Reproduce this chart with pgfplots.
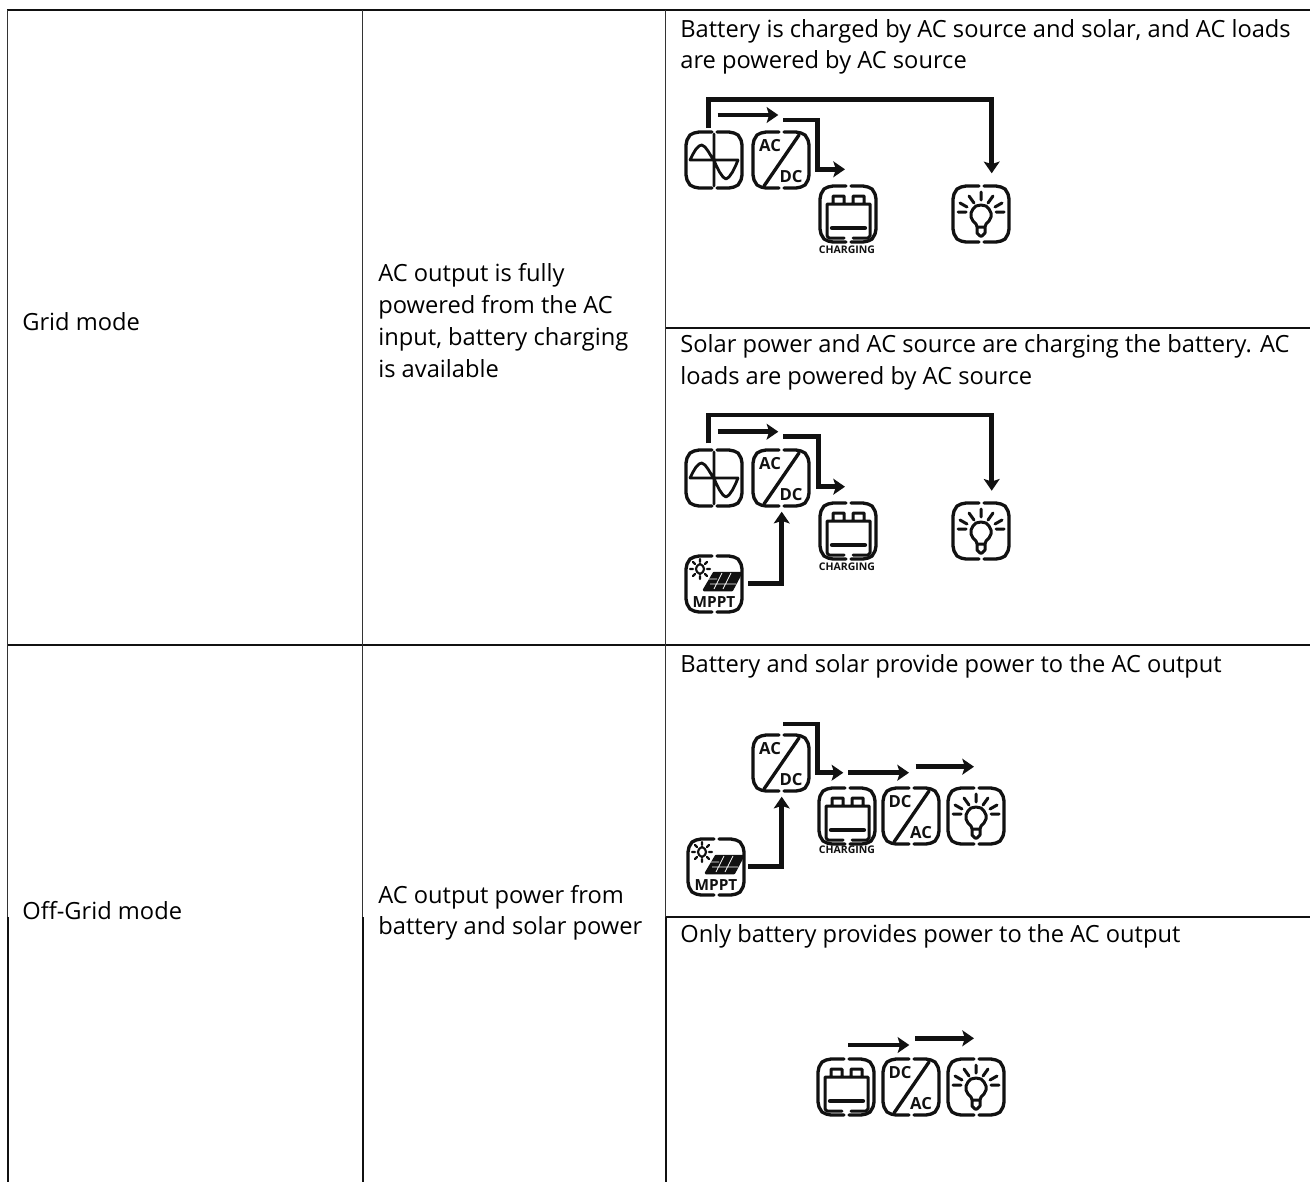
\documentclass[border=0pt]{standalone}
\usepackage{fontspec}
\setmainfont{Open Sans}
\usepackage{pgfplots}
\usepackage{pgfplotstable}
\pgfplotsset{compat=1.18}
\usetikzlibrary{arrows.meta}
\definecolor{ink}{HTML}{111111}
\tikzset{icontxt/.style={font=\fontsize{10}{10}\selectfont\bfseries,ink,inner sep=0pt}}
\pgfplotstableread[row sep=\\]{x y\\
26 0\\13 0\\8 1\\4 3\\1 8\\0 13\\0 43\\1 48\\4 53\\8 55\\13 56\\26 56\\nan nan\\
31 0\\43 0\\48 1\\52 3\\55 8\\56 13\\56 43\\55 48\\52 53\\48 55\\43 56\\31 56\\}\boxT
\pgfplotstableread[row sep=\\]{x y\\
4 28\\52 28\\nan nan\\28 2\\28 54\\nan nan\\
4 28\\7 22\\10 17\\13 14\\15.8 13\\19 15\\22 19\\25 24\\27.6 28\\30.5 34\\33.5 40\\37 45\\40 47\\43 45\\46.5 40\\49.5 34\\52 28\\}\waveT
\pgfplotstableread[row sep=\\]{x y\\46 3\\11 54\\}\diagT
\pgfplotstableread[row sep=\\]{x y\\
7 50\\7 18\\13 18\\13 10\\24 10\\24 18\\33 18\\33 10\\44 10\\44 18\\50 18\\50 50\\nan nan\\
13 18\\44 18\\nan nan\\7 50\\9 52\\24 52\\nan nan\\50 50\\48 52\\33 52\\}\battT
\pgfplotstableread[row sep=\\]{x y\\12 42\\45 42\\}\battbarT
\pgfplotstableread[row sep=\\]{x y\\
23 38\\20 35\\18 31\\18 27\\20 23\\23 20\\28 19\\33 20\\36 23\\38 27\\38 31\\36 35\\33 38\\32 41\\24 41\\23 38\\nan nan\\
24 41\\24 47\\27 50\\29 50\\32 47\\32 41\\nan nan\\
28 6\\28 14\\nan nan\\16 10\\21 17\\nan nan\\40 10\\35 17\\nan nan\\7 17\\14 21\\nan nan\\49 17\\42 21\\nan nan\\
5 26\\13 26\\nan nan\\51 26\\43 26\\}\bulbT
\pgfplotstableread[row sep=\\]{x y\\
11 10\\14 8\\17 10\\18 13\\17 16\\14 18\\11 16\\10 13\\11 10\\nan nan\\
14 3\\14 6\\nan nan\\14 20\\14 23\\nan nan\\4 13\\7 13\\nan nan\\21 13\\24 13\\nan nan\\
7 6\\9 8\\nan nan\\21 6\\19 8\\nan nan\\7 20\\9 18\\nan nan\\21 20\\19 18\\}\sunT
\pgfplotstableread[row sep=\\]{x y\\18 34\\28 17\\55 17\\46 34\\18 34\\}\panelT
\pgfplotstableread[row sep=\\]{x y\\
24 28\\50 28\\nan nan\\21 23\\31 23\\nan nan\\36 17\\28 33\\nan nan\\45 17\\37 33\\}\panelgT

\newcommand{\shape}[4][2pt]{\addplot[ink,line width=#1,line join=round,line cap=round,unbounded coords=jump,no markers] table[x expr=\thisrow{x}+#3,y expr=\thisrow{y}+#4]{#2};}
\newcommand{\wavebox}[2]{\shape{\boxT}{#1}{#2}\shape[1.7pt]{\waveT}{#1}{#2}}
\newcommand{\acdc}[2]{\shape{\boxT}{#1}{#2}\shape{\diagT}{#1}{#2}%
 \node[icontxt] at (axis cs:#1+17,#2+14) {AC};\node[icontxt] at (axis cs:#1+38,#2+45) {DC};}
\newcommand{\dcac}[2]{\shape{\boxT}{#1}{#2}\shape{\diagT}{#1}{#2}%
 \node[icontxt] at (axis cs:#1+17,#2+14) {DC};\node[icontxt] at (axis cs:#1+38,#2+45) {AC};}
\newcommand{\batt}[2]{\shape{\boxT}{#1}{#2}\shape[1.8pt]{\battT}{#1}{#2}\shape[2.6pt]{\battbarT}{#1}{#2}}
\newcommand{\charging}[2]{\node[font=\fontsize{6.3}{6.3}\selectfont\bfseries,ink] at (axis cs:#1,#2) {CHARGING};}
\newcommand{\bulb}[2]{\shape{\boxT}{#1}{#2}\shape[1.8pt]{\bulbT}{#1}{#2}}
\newcommand{\mppt}[2]{\shape{\boxT}{#1}{#2}\shape[1.3pt]{\sunT}{#1}{#2}\shape[1.5pt]{\panelT}{#1}{#2}%
 \addplot[fill=ink,draw=none,no markers] table[x expr=\thisrow{x}+#1,y expr=\thisrow{y}+#2]{\panelT};%
 \addplot[white,line width=.5pt,unbounded coords=jump,no markers] table[x expr=\thisrow{x}+#1,y expr=\thisrow{y}+#2]{\panelgT};%
 \node[font=\fontsize{9.2}{9.2}\selectfont\bfseries,ink] at (axis cs:#1+28,#2+46) {MPPT};}
\newcommand{\flow}[2][]{\addplot[ink,line width=2.7pt,no markers,#1,-{Stealth[length=7pt,width=9.5pt,inset=1.5pt]}] coordinates {#2};}
\newcommand{\glinea}[1]{\addplot[ink,line width=1.2pt,no markers] coordinates {#1};}
\newcommand{\glineb}[1]{\addplot[black!80,line width=.9pt,no markers] coordinates {#1};}
\newcommand{\txt}[3]{\node[anchor=base west,inner sep=0pt,font=\fontsize{14.2}{14.2}\selectfont,black] at (axis cs:#1,#2) {#3};}

\begin{document}
\begin{tikzpicture}
\begin{axis}[
  name=ax,
  scale only axis,width=786pt,height=709.2pt,
  xmin=0,xmax=1310,ymin=0,ymax=1182,y dir=reverse,
  hide axis,clip=true,
]
% table rules
\glinea{(7,10) (1310,10)}
\glinea{(7,645) (1310,645)}
\glinea{(665,327.5) (1310,327.5)}
\glinea{(665,917) (1310,917)}
\glineb{(7.5,10) (7.5,917)}
\glineb{(362.5,10) (362.5,917)}
\glineb{(665.5,10) (665.5,917)}
\glinea{(7.5,917) (7.5,1182)}
\glinea{(363,917) (363,1182)}
\glinea{(666,917) (666,1182)}
% text
\txt{22}{330}{Grid mode}
\txt{378}{281}{AC output is fully}
\txt{378}{313}{powered from the AC}
\txt{378}{345}{input, battery charging}
\txt{378}{377}{is available}
\txt{680}{37}{Battery is charged by AC source and solar, and AC loads}
\txt{680}{68}{are powered by AC source}
\txt{680}{352}{Solar power and AC source are charging the battery. AC}
\txt{680}{384}{loads are powered by AC source}
\txt{22}{919}{Off-Grid mode}
\txt{378}{903}{AC output power from}
\txt{378}{934}{battery and solar power}
\txt{680}{672}{Battery and solar provide power to the AC output}
\txt{680}{942}{Only battery provides power to the AC output}
% diagram 1
\wavebox{686}{132}\acdc{753}{132}\batt{820}{186}\bulb{953}{186}\charging{847}{250}
\flow{(708.3,128) (708.3,99.3) (991.7,99.3) (991.7,173.3)}
\flow{(717.7,115) (778.3,115)}
\flow{(783.3,120) (817.7,120) (817.7,169.3) (845,169.3)}
% diagram 2
\wavebox{686}{450}\acdc{753}{450}\batt{820}{503}\bulb{953}{503}\mppt{686}{556}\charging{847}{567}
\flow{(708.3,443.3) (708.3,415) (991.7,415) (991.7,490.7)}
\flow{(717.7,431.7) (778.3,431.7)}
\flow{(783.3,436.7) (818.3,436.7) (818.3,486.7) (845,486.7)}
\flow{(748.3,583.3) (781.7,583.3) (781.7,511.7)}
% diagram 3
\acdc{753}{735}\batt{819}{788}\dcac{883}{788}\bulb{948}{788}\mppt{688}{839}\charging{847}{850}
\flow{(783.3,724) (817.7,724) (817.7,772.7) (843.3,772.7)}
\flow{(848,772.7) (909,772.7)}
\flow{(915.7,766.7) (974,766.7)}
\flow{(748.3,866.7) (781.7,866.7) (781.7,796.7)}
% diagram 4
\batt{818}{1059}\dcac{883}{1059}\bulb{948}{1059}
\flow{(848.3,1045) (909.3,1045)}
\flow{(915,1038.3) (974,1038.3)}
\end{axis}
\useasboundingbox (ax.south west) rectangle (ax.north east);
\end{tikzpicture}
\end{document}
